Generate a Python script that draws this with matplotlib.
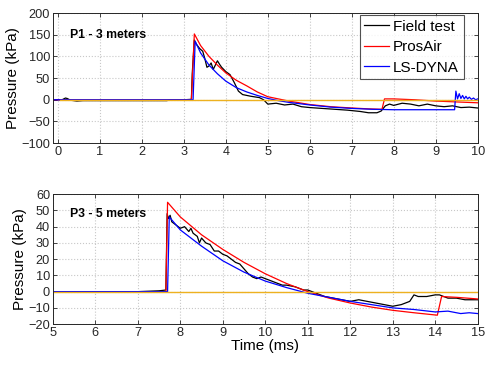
import matplotlib
matplotlib.use("Agg")
import matplotlib.pyplot as plt

plt.rcParams['font.family'] = ['Liberation Sans', 'DejaVu Sans']

# ---- P1 - 3 meters (top panel) ----
p1_field_t = [-0.12, 0.1, 0.18, 0.22, 0.3, 0.45, 0.6, 1.0, 1.5, 2.0, 2.6, 2.65, 3.0, 3.18, 3.2, 3.25, 3.3, 3.38,
              3.45, 3.5, 3.55, 3.6, 3.65, 3.7, 3.75, 3.8, 3.85, 3.9, 4.0, 4.1, 4.2, 4.3, 4.4, 4.6, 4.8, 4.9,
              5.0, 5.2, 5.4, 5.6, 5.8, 6.0, 6.3, 6.6, 6.9, 7.2, 7.4, 7.6, 7.7, 7.8, 7.9, 8.0, 8.2, 8.4,
              8.6, 8.8, 9.0, 9.2, 9.4, 9.6, 9.8, 10.0]
p1_field_p = [0, 0, 4, 3, -1, -3, -2, -2, -2, -2, -2, 0, 0, 1, 60, 138, 128, 118,
              112, 95, 75, 78, 85, 70, 80, 90, 82, 75, 65, 58, 40, 20, 12, 8, 5, 0,
              -10, -8, -12, -10, -16, -18, -20, -22, -24, -27, -30, -30, -26, -14, -10, -13, -8, -10,
              -14, -10, -14, -16, -14, -18, -17, -19]

p1_pros_t = [-0.12, 3.18, 3.25, 3.4, 3.6, 3.8, 4.0, 4.25, 4.5, 4.75, 5.0, 5.25, 5.5, 6.0, 6.5, 7.0, 7.4, 7.72,
             7.78, 8.0, 8.5, 9.0, 9.5, 10.0]
p1_pros_p = [0, 0, 152, 125, 100, 80, 62, 45, 32, 18, 7, 2, -3, -11, -16, -19, -21, -22,
             2, 2, 0, -3, -5, -7]

p1_dyna_t = [-0.12, 3.22, 3.27, 3.4, 3.6, 3.8, 4.0, 4.25, 4.5, 4.75, 5.0, 5.25, 5.5, 6.0, 6.5, 7.0, 7.5, 8.0,
             8.5, 9.0, 9.45, 9.48, 9.52, 9.56, 9.6, 9.64, 9.68, 9.72, 9.76, 9.8, 9.85, 9.9, 9.95, 10.0]
p1_dyna_p = [0, 0, 135, 108, 80, 60, 43, 28, 18, 10, 3, -2, -6, -12, -17, -20, -22, -23,
             -23, -23, -23, 20, 2, 14, 3, 10, 2, 8, 2, 6, 1, 4, 0, 2]

# ---- P3 - 5 meters (bottom panel) ----
p3_field_t = [5.0, 5.5, 6.0, 6.5, 7.0, 7.5, 7.66, 7.69, 7.72, 7.76, 7.8, 7.9, 8.0, 8.1, 8.2, 8.25, 8.3, 8.4,
              8.45, 8.5, 8.6, 8.7, 8.8, 8.9, 9.0, 9.1, 9.2, 9.3, 9.4, 9.5, 9.6, 9.7, 9.8, 9.9, 10.0, 10.2,
              10.4, 10.5, 10.7, 10.9, 11.0, 11.2, 11.4, 11.6, 11.8, 12.0, 12.2, 12.4, 12.6, 12.8, 13.0, 13.2,
              13.4, 13.5, 13.6, 13.8, 14.0, 14.1, 14.3, 14.5, 14.7, 15.0]
p3_field_p = [0, 0, 0, 0, 0, 0.5, 1, 48, 45, 47, 43, 41, 39, 40, 37, 39, 36, 34,
              30, 33, 30, 29, 25, 25, 23, 22, 20, 18, 17, 14, 11, 9, 8, 9, 8, 6,
              4, 4, 3, 1, 1, -1, -3, -4, -5, -6, -5, -6, -7, -8, -9, -8,
              -6, -2, -3, -3, -2, -2, -4, -4, -5, -5]

p3_pros_t = [5.0, 7.66, 7.7, 8.0, 8.5, 9.0, 9.5, 10.0, 10.5, 11.0, 11.5, 12.0, 12.5, 13.0, 13.5, 14.05, 14.15,
             14.5, 15.0]
p3_pros_p = [0, 0, 55, 46, 35, 26, 18, 11, 5, 0, -4, -7, -9.5, -11.5, -13, -14.5, -3, -3.5, -4.5]

p3_dyna_t = [5.0, 7.7, 7.74, 8.0, 8.5, 9.0, 9.5, 10.0, 10.5, 11.0, 11.5, 12.0, 12.5, 13.0, 13.5, 14.0, 14.3,
             14.6, 14.8, 15.0]
p3_dyna_p = [0, 0, 46, 38, 28, 19, 12, 6.5, 2.5, -1, -3.5, -6, -8, -10, -11, -12.5, -12, -13.5, -13, -13.5]

black = '#000000'
red = '#FF0000'
blue = '#0000FF'
orange = '#EDB120'

fig = plt.figure(figsize=(4.94, 3.65), dpi=100)
ax1 = fig.add_axes([0.107, 0.608, 0.860, 0.356])
ax2 = fig.add_axes([0.107, 0.112, 0.860, 0.356])


def style_axis(ax):
    ax.grid(True, color='#c8c8c8', linestyle=':', linewidth=0.8)
    ax.set_axisbelow(True)
    ax.tick_params(direction='in', top=True, right=True, labelsize=9.2,
                   colors='#262626', length=3, width=0.6, pad=2)
    for s in ax.spines.values():
        s.set_linewidth(0.7)
        s.set_color('#262626')


ax1.plot(p1_field_t, p1_field_p, color=black, lw=0.9, label='Field test')
ax1.plot(p1_pros_t, p1_pros_p, color=red, lw=0.9, label='ProsAir')
ax1.plot(p1_dyna_t, p1_dyna_p, color=blue, lw=0.9, label='LS-DYNA')
ax1.plot([0.05, 10], [0, 0], color=orange, lw=1.0)
ax1.set_xlim(-0.12, 10)
ax1.set_ylim(-100, 200)
ax1.set_xticks(range(0, 11))
ax1.set_yticks(range(-100, 201, 50))
ax1.set_ylabel('Pressure (kPa)', fontsize=11, labelpad=1)
ax1.text(0.28, 150, 'P1 - 3 meters', fontsize=8.8, fontweight='bold', va='center')
style_axis(ax1)
leg = ax1.legend(loc='upper right', bbox_to_anchor=(0.967, 0.985), fontsize=11, frameon=True,
                 fancybox=False, edgecolor='#262626', borderpad=0.3, labelspacing=0.42,
                 handlelength=1.6, handletextpad=0.3, borderaxespad=0)
leg.get_frame().set_linewidth(0.8)

ax2.plot(p3_field_t, p3_field_p, color=black, lw=0.9)
ax2.plot(p3_pros_t, p3_pros_p, color=red, lw=0.9)
ax2.plot(p3_dyna_t, p3_dyna_p, color=blue, lw=0.9)
ax2.plot([5, 15], [0, 0], color=orange, lw=1.0)
ax2.set_xlim(5, 15)
ax2.set_ylim(-20, 60)
ax2.set_xticks(range(5, 16))
ax2.set_yticks(range(-20, 61, 10))
ax2.set_ylabel('Pressure (kPa)', fontsize=11, labelpad=1)
ax2.set_xlabel('Time (ms)', fontsize=11, labelpad=0)
ax2.text(5.4, 48, 'P3 - 5 meters', fontsize=8.8, fontweight='bold', va='center')
style_axis(ax2)

fig.savefig('out.png', dpi=100)
